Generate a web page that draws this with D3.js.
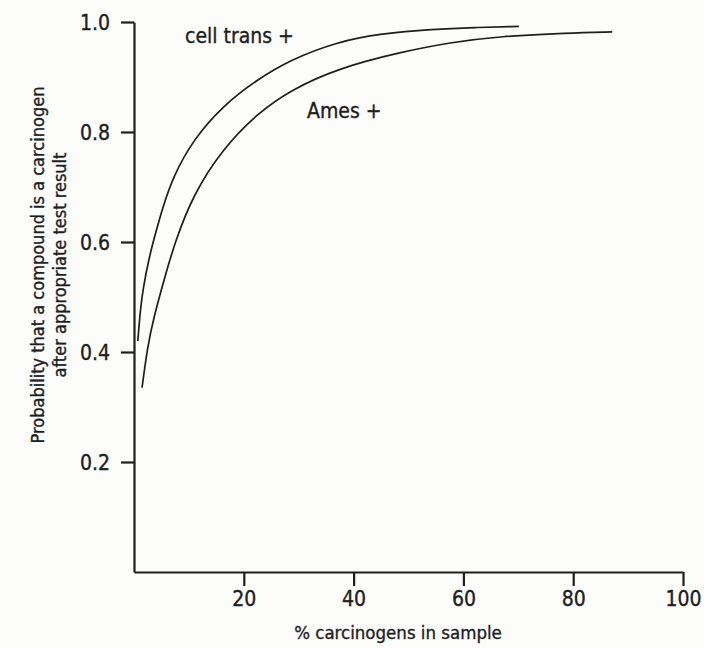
<!DOCTYPE html>
<html>
<head>
<meta charset="utf-8">
<script src="https://cdn.jsdelivr.net/npm/d3@7"></script>
<style>
  body { margin: 0; background: #fcfcfb; }
  svg { display: block; }
  text { font-family: "Liberation Sans Narrow", "DejaVu Sans Condensed", "Liberation Sans", sans-serif; fill: #1e1e1e; stroke: #1e1e1e; stroke-width: 0.35px; }
</style>
</head>
<body>
<svg id="chart" width="704" height="648"></svg>
<script>
// values: [% carcinogens, probability]
let cellTrans = [[0.7, 0.42], [1.0, 0.46], [1.6, 0.515], [2.9, 0.578], [3.9, 0.615], [5.3, 0.665],
    [7.1, 0.718], [10.7, 0.785], [16.2, 0.848], [22.4, 0.895], [28.4, 0.931], [37, 0.964],
    [45, 0.979], [54.5, 0.987], [62, 0.99], [70.1, 0.992]];
let ames = [[1.46, 0.335], [2.4, 0.405], [3.5, 0.46], [6.0, 0.55], [7.5, 0.60], [10.7, 0.685],
    [16.2, 0.77], [22.4, 0.833], [28.4, 0.876], [37.5, 0.917], [48.5, 0.945], [57.6, 0.963],
    [66.7, 0.974], [78.9, 0.98], [87.1, 0.982]];
let xTicks = [20, 40, 60, 80, 100];
let yTicks = [0.2, 0.4, 0.6, 0.8, 1.0];
let curveNames = ["cell trans +", "Ames +"];

window.onload = function() {
    var svg = d3.select("#chart");
    var ink = "#1e1e1e";

    var x = d3.scaleLinear().domain([0, 100]).range([134, 683]);
    var y = d3.scaleLinear().domain([0, 1]).range([572, 22]);

    var gx = svg.append("g")
        .attr("transform", "translate(0," + y(0) + ")")
        .call(d3.axisBottom(x).tickValues(xTicks).tickSize(14).tickSizeOuter(0).tickPadding(5).tickFormat(d3.format("d")));
    var gy = svg.append("g")
        .attr("transform", "translate(" + x(0) + ",0)")
        .call(d3.axisLeft(y).tickValues(yTicks).tickSize(13).tickSizeOuter(0).tickPadding(11).tickFormat(d3.format(".1f")));

    [gx, gy].forEach(function(g) {
        g.selectAll("path, line").attr("stroke", ink).attr("stroke-width", 2.2);
        g.selectAll("text").attr("fill", ink).style("font-size", "21px")
            .style("font-family", "'Liberation Sans Narrow', 'DejaVu Sans Condensed', sans-serif");
    });
    gy.selectAll("text").attr("dy", "0.35em");

    var line = d3.line()
        .x(function(d) { return x(d[0]); })
        .y(function(d) { return y(d[1]); })
        .curve(d3.curveBasis);

    [cellTrans, ames].forEach(function(s) {
        svg.append("path")
            .datum(s)
            .attr("d", line)
            .attr("fill", "none")
            .attr("stroke", ink)
            .attr("stroke-width", 1.7);
    });

    // curve labels
    svg.append("text").attr("x", 185).attr("y", 43)
        .style("font-size", "21px").text(curveNames[0]);
    svg.append("text").attr("x", 307).attr("y", 118)
        .style("font-size", "21px").text(curveNames[1]);

    // axis titles
    svg.append("text").attr("x", 398).attr("y", 639)
        .attr("text-anchor", "middle")
        .style("font-size", "18.5px").text("% carcinogens in sample");

    var yt = svg.append("g").attr("transform", "translate(0,265) rotate(-90)");
    yt.append("text").attr("x", 0).attr("y", 44)
        .attr("text-anchor", "middle")
        .style("font-size", "18px").text("Probability that a compound is a carcinogen");
    yt.append("text").attr("x", 0).attr("y", 66)
        .attr("text-anchor", "middle")
        .style("font-size", "18px").text("after appropriate test result");
};
</script>
</body>
</html>
